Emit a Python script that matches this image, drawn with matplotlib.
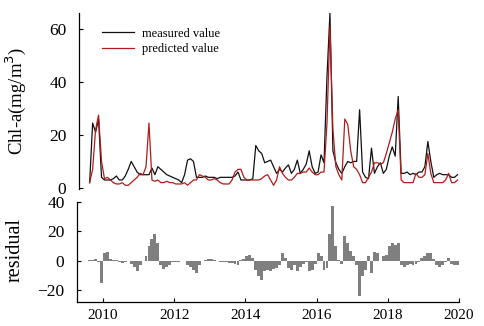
import numpy as np
import matplotlib
matplotlib.use("Agg")
import matplotlib.pyplot as plt

# monthly series starting Aug 2009
start_year = 2009.625
measured = [2, 24.5, 21, 26, 4, 3, 3, 3, 3.5, 4.5,
            3, 3, 4.5, 7, 10, 8, 6, 5, 5, 5,
            5, 7.5, 5, 8, 7, 6, 5, 4.5, 4, 3.5,
            3, 2, 5, 10.5, 11, 10, 4, 4, 4, 4.5,
            4, 4, 4, 3.5, 4, 4, 4, 4, 4, 4.5,
            6, 3, 3, 3, 3, 3.5, 16, 14, 13, 9.5,
            10, 10.5, 8, 5.5, 7, 6, 7.5, 8.7, 5.5, 7,
            10.5, 5.5, 7, 9, 14, 8, 5.5, 6, 12.5, 9.5,
            42, 66, 14, 9.5, 7, 5.5, 8, 10, 9.5, 10,
            10, 29.5, 6, 4, 3.5, 15, 5.5, 8, 9.5, 5.5,
            7, 12, 15.5, 12, 34.5, 5.5, 5.5, 6, 5, 5.5,
            5, 6, 6, 8, 17.5, 10, 4, 5, 5.5, 5,
            5, 5, 4, 4, 5]
predicted = [2, 7, 22, 27.5, 10, 3.5, 4, 3, 2, 1.5,
             1.5, 2, 1, 1, 2, 3, 4, 5.5, 5, 8,
             24.5, 3, 2.5, 3, 2, 2, 2.5, 2, 2, 1.5,
             1.5, 1.5, 2, 1, 2, 3, 3, 5, 4.5, 4,
             3, 3, 3.5, 3, 2, 1.5, 1.5, 1.5, 3, 6,
             7, 7, 4, 3, 3, 3, 3, 3, 3.5, 4.5,
             5, 3, 1, 3, 8, 5.5, 4, 3, 3, 4,
             5.5, 5.5, 6, 6, 7.5, 6, 5, 5, 6, 6,
             24.5, 61, 22, 8, 5, 3, 26, 24, 14, 8,
             7, 5, 2, 2, 4, 6, 9.5, 9.5, 9, 9.5,
             13, 17, 21, 26, 29.5, 3, 2, 2, 2, 2,
             5.5, 4, 4, 5, 13, 5.5, 2, 2, 2, 2,
             3, 5.5, 2, 2, 3]
residual = [0.5, 0.5, 1, -1, -15, 5, 6, 1, 0.3, 0.3,
            -1, -1.5, -1, 0, -2, -4, -7, -3, 0, 3,
            10, 15, 18.5, 12, -3, -5.5, -4.5, -3, -1, -1,
            -1, 0, 0, -3, -4, -6, -8.5, -3, 0, 0.5,
            1, 1, 0.5, 0, -0.5, -1, -1, -1.5, -1.5, -2,
            -3, 0.5, 1, 3.5, 4, 2, -6, -10, -13, -7,
            -6, -7, -5.5, -5, -3, 5.5, 2, -5, -6, -3,
            -7, -4, -2, -0.5, -7, -6, -2, 5, 3, -6,
            -5, 18, 37, 10, 0.5, -2, 17, 12, 7, 3,
            -3, -24, -10, -6, 3, -8, 6, 5, 0, 3,
            4, 10, 12, 11, 12, -3, -4, -3, -2, -2.5,
            -2, -1, 2, 3, 5, 5, 1, -3, -4, -3,
            -1, 2, -2, -3, -2.5]
xticks = [2010, 2012, 2014, 2016, 2018, 2020]
top_yticks = [0, 20, 40, 60]
bot_yticks = [-20, 0, 20, 40]

t = start_year + np.arange(len(measured)) / 12.0

plt.rcParams['font.family'] = ['Liberation Serif', 'DejaVu Serif']
fig = plt.figure(figsize=(4.84, 3.26), dpi=100)
W, H = 484, 326
px = lambda v: 2010 + (v - 103) / 35.6

ax1 = fig.add_axes([79 / W, 1 - 189 / H, (459 - 79) / W, (189 - 13) / H])
ax2 = fig.add_axes([77 / W, 1 - 302 / H, (459 - 77) / W, (302 - 202) / H])

ax1.plot(t, measured, color='#111111', lw=0.9, label='measured value')
ax1.plot(t, predicted, color='#b01c1c', lw=0.9, label='predicted value')
ax1.set_xlim(px(79), 2020)
ax1.set_ylim(-0.4, 66)
ax1.set_yticks(top_yticks)
ax1.set_xticks([])
for s in ['top', 'right', 'bottom']:
    ax1.spines[s].set_visible(False)
ax1.spines['left'].set_linewidth(0.9)
ax1.tick_params(axis='y', direction='in', length=3, labelsize=12.5, pad=9)
ax1.set_ylabel('Chl-a(mg/m$^3$)', fontsize=13.5)
ax1.yaxis.set_label_coords(-0.134, 0.5)
leg = ax1.legend(loc='upper left', bbox_to_anchor=(0.03, 0.98), frameon=False,
                 fontsize=9, handlelength=2.6, handletextpad=0.6, labelspacing=0.25)

ax2.bar(t, residual, width=1 / 12.0, color='#7f7f7f', edgecolor='none', align='center')
ax2.set_xlim(px(77), 2020)
ax2.set_ylim(-28, 40)
ax2.set_xticks(xticks)
ax2.set_yticks(bot_yticks)
for s in ['top', 'right']:
    ax2.spines[s].set_visible(False)
ax2.spines['left'].set_linewidth(0.9)
ax2.spines['bottom'].set_linewidth(0.9)
ax2.tick_params(axis='both', direction='in', length=3, labelsize=11)
ax2.tick_params(axis='y', pad=9, labelsize=12.5)
ax2.tick_params(axis='x', pad=5)
ax2.set_ylabel('residual', fontsize=14.5)
ax2.yaxis.set_label_coords(-0.138, 0.52)

fig.savefig('out.png', dpi=100)
